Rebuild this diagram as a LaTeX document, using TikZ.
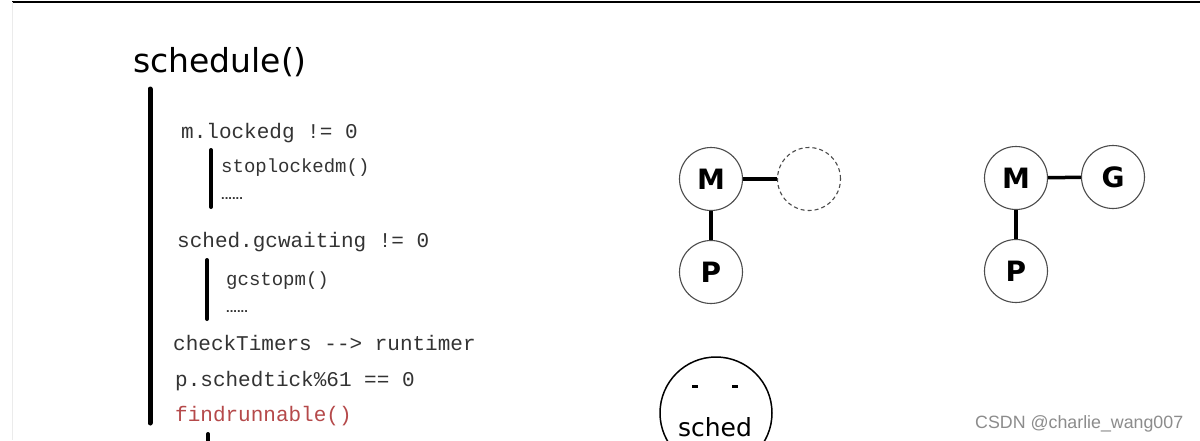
\documentclass[tikz,border=0pt]{standalone}
\usepackage{fontspec}
\setmainfont{Liberation Serif}
\newfontfamily\codefont{Liberation Mono}
\newfontfamily\handfont{DejaVu Sans}
\newfontfamily\markfont{Liberation Sans}
\definecolor{codegray}{HTML}{333333}
\definecolor{codered}{HTML}{B5494A}

\begin{document}
\begin{tikzpicture}[
    x=1pt, y=-1pt,
    codeline/.style={anchor=base west, inner sep=0pt, text=codegray,
      font=\codefont\fontsize{21}{21}\selectfont},
    subline/.style={codeline, font=\codefont\fontsize{19}{19}\selectfont},
    dotline/.style={codeline, font=\markfont\bfseries\fontsize{13}{13}\selectfont},
    gnode/.style={circle, draw=black!70, line width=1.1pt, minimum size=63pt,
      inner sep=0pt, font=\handfont\bfseries\fontsize{28}{28}\selectfont},
    link/.style={line width=3.5pt},
    vbar/.style={line width=5pt, line cap=round}
  ]
  \clip (0,0) rectangle (1200,440);
  \fill[white] (0,0) rectangle (1200,440);
  \draw[line width=2pt] (12,2) -- (1200,2);
  \draw[black!8, line width=1pt] (12,2) -- (12,440);

  \node (title) [anchor=base west, inner sep=0pt,
    font=\handfont\fontsize{33}{33}\selectfont] at (133,72) {schedule()};
  \draw[vbar] (150,89) -- (150,423);

  \node (lockedg) [codeline] at (181,138) {m.lockedg != 0};
  \draw[vbar, line width=4pt] (211,150) -- (211,207);
  \node (stoplocked) [subline] at (221,172) {stoplockedm()};
  \node (dots1) [dotline] at (221,199) {.{}.{}.{}.{}.{}.};

  \node (gcwait) [codeline] at (177,247) {sched.gcwaiting != 0};
  \draw[vbar, line width=4pt] (207,260) -- (207,319);
  \node (gcstop) [subline] at (226,285) {gcstopm()};
  \node (dots2) [dotline] at (226,312) {.{}.{}.{}.{}.{}.};

  \node (timers) [codeline] at (173,350) {checkTimers -{}-> runtimer};
  \node (tick) [codeline] at (175,386) {p.schedtick\%61 == 0};
  \node (findrun) [codeline, text=codered] at (175,421) {findrunnable()};
  \draw[vbar, line width=4pt] (208,434) -- (208,446);

  \node (m1) [gnode] at (711,179) {M};
  \node (g1) [gnode, dash pattern=on 4pt off 3pt] at (809,179) {};
  \node (p1) [gnode] at (711,272) {P};
  \draw[link] (m1) -- (g1);
  \draw[link] (m1) -- (p1);

  \node (m2) [gnode] at (1016,178) {M};
  \node (g2) [gnode] at (1113,177) {G};
  \node (p2) [gnode] at (1016,271) {P};
  \draw[link] (m2) -- (g2);
  \draw[link] (m2) -- (p2);

  \node (sched) [circle, draw, line width=1.5pt, minimum size=112pt] at (716,413) {};
  \draw[line width=3pt] (692,386) -- (698,386);
  \draw[line width=3pt] (732,386) -- (738,386);
  \node (schedtext) [anchor=base, inner sep=0pt,
    font=\handfont\fontsize{25}{25}\selectfont] at (715,436) {sched};

  \node (mark) [anchor=base west, inner sep=0pt, text=black!45,
    font=\markfont\fontsize{17.8}{18}\selectfont] at (975,428) {CSDN @charlie\_wang007};
\end{tikzpicture}
\end{document}
